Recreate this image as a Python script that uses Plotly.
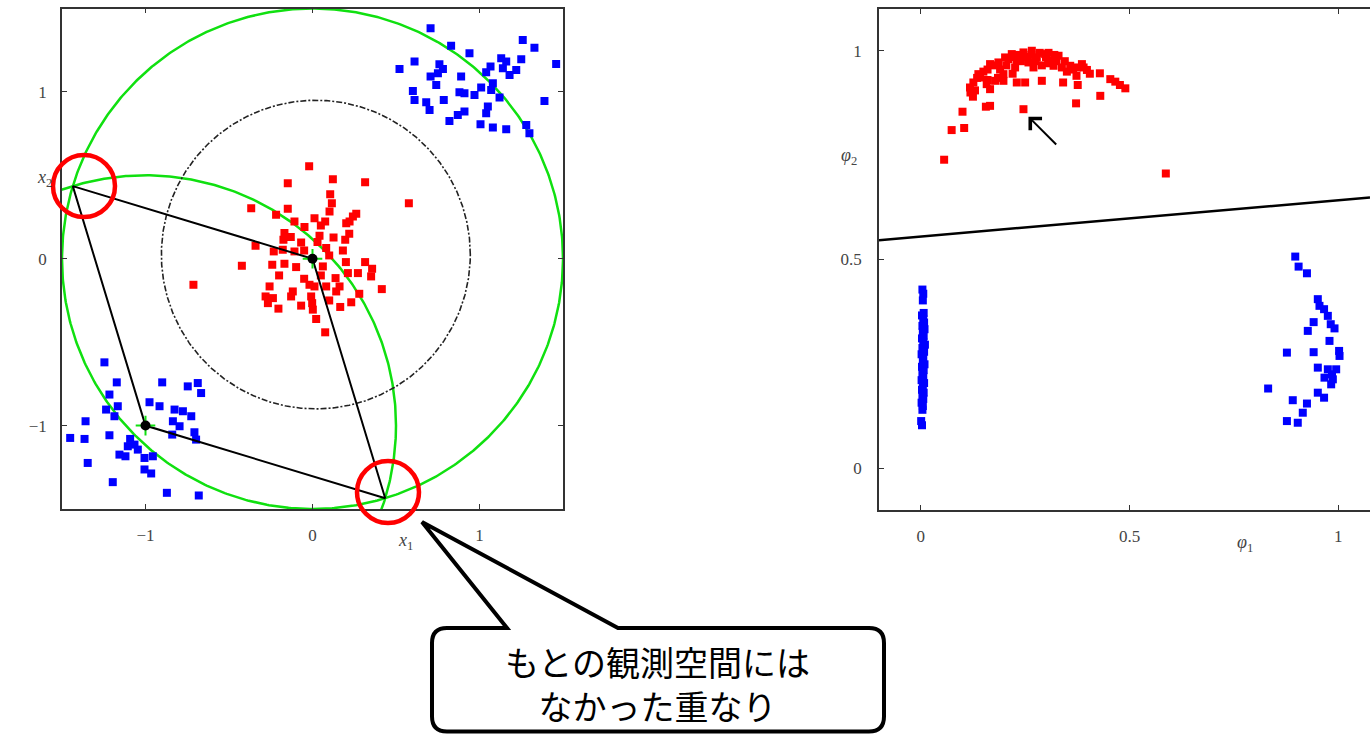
import numpy as np
import plotly.graph_objects as go

W, H = 1370, 734

# ---------------- observation space (x1, x2) ----------------
red_x1 = [-0.02, -0.148, 0.122, 0.315, 0.577, -0.367, -0.148, 0.106, 0.116, 0.102,
          -0.218, -0.108, -0.048, 0.012, 0.076, 0.202, 0.242, 0.262, 0.222, -0.168,
          -0.174, -0.068, 0.042, 0.126, 0.196, -0.341, -0.232, -0.178, -0.108, 0.082,
          0.182, -0.423, -0.241, -0.168, -0.098, 0.062, 0.212, 0.272, 0.315, 0.357,
          0.351, -0.713, -0.257, -0.118, -0.018, 0.012, 0.082, 0.138, 0.162, 0.142,
          0.415, -0.281, -0.267, -0.237, -0.128, -0.008, -0.002, 0.002, -0.068, -0.204,
          0.022, 0.166, 0.232, 0.076, -0.05, 0.03, -0.13, 0.1, -0.2, 0.05,
          -0.05, 0.2, 0.1, 0.22, 0.05, 0.28]
red_x2 = [0.555, 0.453, 0.477, 0.459, 0.333, 0.303, 0.299, 0.387, 0.333, 0.283,
          0.263, 0.223, 0.19, 0.243, 0.223, 0.213, 0.253, 0.269, 0.223, 0.154,
          0.114, 0.098, 0.138, 0.128, 0.114, 0.078, 0.044, 0.054, 0.044, 0.064,
          0.05, -0.042, -0.036, -0.03, -0.05, -0.046, -0.086, -0.086, -0.02, -0.06,
          -0.106, -0.156, -0.166, -0.196, -0.156, -0.166, -0.166, -0.116, -0.166, -0.196,
          -0.182, -0.226, -0.266, -0.236, -0.226, -0.226, -0.266, -0.305, -0.281, -0.299,
          -0.361, -0.289, -0.261, -0.441, 0.05, 0.1, 0.13, 0.02, -0.1, -0.1,
          -0.12, -0.02, -0.25, 0.15, 0.2, -0.21]

blue_x1 = [0.707, 0.83, 0.94, 1.259, 1.329, 1.459, 0.611, 0.521, 0.76, 0.781,
           0.751, 0.707, 0.741, 0.89, 1.13, 1.16, 1.14, 1.25, 1.22, 1.18,
           1.066, 1.04, 1.08, 1.01, 0.601, 0.611, 0.88, 0.91, 0.97, 1.07,
           1.12, 0.786, 0.681, 0.701, 1.389, 1.05, 1.04, 0.91, 0.87, 0.82,
           1.006, 1.08, 1.16, 1.28, 1.299,
           -1.246, -1.172, -0.9, -0.747, -0.687, -0.667, -1.216, -1.166, -1.236, -0.976,
           -0.916, -0.826, -0.776, -0.726, -0.836, -0.796, -1.186, -1.359, -1.451, -1.365,
           -1.216, -0.84, -0.707, -0.697, -1.092, -1.066, -1.106, -1.046, -1.156, -1.12,
           -1.006, -0.956, -1.346, -1.006, -0.966, -1.196, -0.872, -0.681]
blue_x2 = [1.381, 1.277, 1.232, 1.311, 1.265, 1.168, 1.182, 1.138, 1.166, 1.138,
           1.112, 1.092, 1.042, 1.092, 1.202, 1.182, 1.142, 1.196, 1.132, 1.102,
           1.152, 1.118, 1.052, 1.026, 1.006, 0.952, 0.998, 0.992, 0.982, 1.012,
           0.966, 0.952, 0.938, 0.892, 0.946, 0.912, 0.872, 0.882, 0.862, 0.826,
           0.806, 0.786, 0.776, 0.802, 0.752,
           -0.621, -0.741, -0.741, -0.765, -0.745, -0.805, -0.814, -0.884, -0.904, -0.86,
           -0.884, -0.904, -0.914, -0.944, -0.974, -1.004, -0.944, -0.974, -1.074, -1.08,
           -1.058, -1.054, -1.04, -1.084, -1.08, -1.114, -1.124, -1.144, -1.174, -1.184,
           -1.194, -1.184, -1.224, -1.263, -1.287, -1.339, -1.403, -1.419]

# Gaussian basis function centres and the contour radius drawn around them
basis_c1 = [-1.0, 0.0]
basis_c2 = [-1.0, 0.0]
basis_radius = 1.5
# dashed decision boundary in the original space
boundary_c1, boundary_c2 = 0.02, 0.025
boundary_radius = 0.925

# ---------------- feature space (phi1, phi2) ----------------
red_phi1 = [0.056, 0.074, 0.104, 0.100, 0.156, 0.166, 0.246, 0.372, 0.430, 0.587,
            0.119, 0.118, 0.126, 0.142, 0.138, 0.158, 0.166, 0.178, 0.166, 0.186,
            0.202, 0.198, 0.198, 0.218, 0.230, 0.226, 0.230, 0.250, 0.246, 0.266,
            0.258, 0.278, 0.270, 0.290, 0.298, 0.314, 0.318, 0.330, 0.338, 0.341,
            0.358, 0.374, 0.373, 0.376, 0.386, 0.398, 0.429, 0.454, 0.466, 0.477,
            0.490, 0.240, 0.306,
            0.125, 0.130, 0.135, 0.150, 0.160, 0.175, 0.190, 0.205, 0.210, 0.225,
            0.235, 0.240, 0.255, 0.265, 0.275, 0.285, 0.290, 0.300, 0.305, 0.320,
            0.325, 0.345, 0.350, 0.365, 0.390, 0.405, 0.160, 0.185, 0.220]
red_phi2 = [0.739, 0.810, 0.815, 0.854, 0.866, 0.868, 0.860, 0.874, 0.892, 0.706,
            0.900, 0.912, 0.924, 0.936, 0.944, 0.920, 0.908, 0.928, 0.968, 0.972,
            0.984, 0.944, 0.928, 0.992, 0.976, 0.960, 0.924, 0.924, 0.996, 1.000,
            0.972, 0.984, 0.960, 0.928, 0.992, 0.976, 0.964, 0.988, 0.960, 0.924,
            0.964, 0.960, 0.940, 0.918, 0.968, 0.954, 0.946, 0.932, 0.926, 0.918,
            0.910, 0.985, 0.995,
            0.890, 0.905, 0.935, 0.950, 0.955, 0.965, 0.955, 0.965, 0.980, 0.985,
            0.990, 0.975, 0.985, 0.990, 0.975, 0.995, 0.965, 0.985, 0.970, 0.990,
            0.975, 0.975, 0.950, 0.955, 0.960, 0.945, 0.930, 0.935, 0.945]

blue_phi1 = [0.004, 0.006, 0.005, 0.007, 0.003, 0.006, 0.008, 0.004, 0.009, 0.005,
             0.007, 0.003, 0.006, 0.010, 0.004, 0.008, 0.002, 0.006, 0.005, 0.009,
             0.003, 0.007, 0.004, 0.006, 0.002, 0.008, 0.005, 0.003, 0.007, 0.004,
             0.006, 0.002, 0.005, 0.004, 0.001, 0.003,
             0.897, 0.905, 0.925, 0.951, 0.955, 0.966, 0.975, 0.941, 0.927, 0.982,
             0.991, 0.979, 0.877, 0.941, 1.002, 1.003, 0.951, 0.975, 0.995, 0.967,
             0.987, 0.983, 0.832, 0.951, 0.966, 0.891, 0.925, 0.915, 0.877, 0.903,
             0.985]
blue_phi2 = [0.428, 0.418, 0.402, 0.372, 0.366, 0.357, 0.349, 0.341, 0.333, 0.326,
             0.317, 0.311, 0.302, 0.296, 0.288, 0.279, 0.273, 0.264, 0.257, 0.249,
             0.243, 0.235, 0.226, 0.219, 0.211, 0.204, 0.196, 0.188, 0.181, 0.172,
             0.166, 0.157, 0.149, 0.140, 0.113, 0.103,
             0.507, 0.483, 0.467, 0.405, 0.389, 0.381, 0.365, 0.350, 0.329, 0.345,
             0.335, 0.305, 0.277, 0.278, 0.281, 0.269, 0.241, 0.237, 0.237, 0.217,
             0.213, 0.201, 0.191, 0.181, 0.169, 0.163, 0.155, 0.133, 0.113, 0.109,
             0.225]

# linear decision boundary in feature space: phi2 = a + b * phi1
sep_intercept = 0.555
sep_slope = 0.087

left_ticks = [-1, 0, 1]
right_ticks = [0, 0.5, 1]

# ---------------- layout geometry (pixels) ----------------
LEFT_BOX = (62, 563, 8.5, 509)      # x0, x1, ytop, ybottom
RIGHT_BOX = (879, 1370, 9, 510)
LEFT_RANGE = [-1.5, 1.5]
RIGHT_XRANGE = [-0.1, 1.076]
RIGHT_YRANGE = [-0.1, 1.1]

RED = "#ff0000"
BLUE = "#0000ff"
GREEN = "#10e010"
MSIZE = 8


def pxx(x):
    return x / W


def pxy(y):
    return 1 - y / H


fig = go.Figure()

theta = np.linspace(0, 2 * np.pi, 721)

# basis-function contours (green)
for cx, cy in zip(basis_c1, basis_c2):
    fig.add_trace(go.Scatter(x=cx + basis_radius * np.cos(theta),
                             y=cy + basis_radius * np.sin(theta),
                             mode="lines", line=dict(color=GREEN, width=2.5),
                             xaxis="x", yaxis="y", hoverinfo="skip"))

# dashed boundary circle
fig.add_trace(go.Scatter(x=boundary_c1 + boundary_radius * np.cos(theta),
                         y=boundary_c2 + boundary_radius * np.sin(theta),
                         mode="lines", line=dict(color="#222222", width=1.6, dash="6px,2px,2px,2px"),
                         xaxis="x", yaxis="y", hoverinfo="skip"))

# data points in the original space
fig.add_trace(go.Scatter(x=red_x1, y=red_x2, mode="markers",
                         marker=dict(symbol="square", size=MSIZE, color=RED),
                         xaxis="x", yaxis="y"))
fig.add_trace(go.Scatter(x=blue_x1, y=blue_x2, mode="markers",
                         marker=dict(symbol="square", size=MSIZE, color=BLUE),
                         xaxis="x", yaxis="y"))

# rhombus linking the two centres and the contour intersections
ca = np.array([basis_c1[0], basis_c2[0]])
cb = np.array([basis_c1[1], basis_c2[1]])
d = np.linalg.norm(cb - ca)
mid = (ca + cb) / 2
perp = np.array([-(cb - ca)[1], (cb - ca)[0]]) / d
h = np.sqrt(basis_radius ** 2 - (d / 2) ** 2)
p_up = mid + h * perp
p_dn = mid - h * perp
rh = np.array([cb, p_up, ca, p_dn, cb])
fig.add_trace(go.Scatter(x=rh[:, 0], y=rh[:, 1], mode="lines",
                         line=dict(color="black", width=2),
                         xaxis="x", yaxis="y", hoverinfo="skip"))

# basis centres
fig.add_trace(go.Scatter(x=basis_c1, y=basis_c2, mode="markers",
                         marker=dict(symbol="cross-thin", size=14,
                                     line=dict(color=GREEN, width=2)),
                         xaxis="x", yaxis="y"))
fig.add_trace(go.Scatter(x=basis_c1, y=basis_c2, mode="markers",
                         marker=dict(symbol="circle", size=10, color="black"),
                         xaxis="x", yaxis="y"))

# feature space
fig.add_trace(go.Scatter(x=RIGHT_XRANGE,
                         y=[sep_intercept + sep_slope * v for v in RIGHT_XRANGE],
                         mode="lines", line=dict(color="black", width=2.5),
                         xaxis="x2", yaxis="y2", hoverinfo="skip"))
fig.add_trace(go.Scatter(x=red_phi1, y=red_phi2, mode="markers",
                         marker=dict(symbol="square", size=MSIZE, color=RED),
                         xaxis="x2", yaxis="y2"))
fig.add_trace(go.Scatter(x=blue_phi1, y=blue_phi2, mode="markers",
                         marker=dict(symbol="square", size=MSIZE, color=BLUE),
                         xaxis="x2", yaxis="y2"))

tickfont = dict(family="Liberation Serif", size=17, color="#444444")
axis_common = dict(showgrid=False, zeroline=False, showline=True, linecolor="#333333",
                   linewidth=1.5, ticks="inside", ticklen=5, tickcolor="#333333",
                   tickfont=tickfont)

fig.update_layout(
    width=W, height=H,
    margin=dict(l=0, r=0, t=0, b=0),
    paper_bgcolor="white", plot_bgcolor="white",
    showlegend=False,
    xaxis=dict(domain=[pxx(LEFT_BOX[0]), pxx(LEFT_BOX[1])], range=LEFT_RANGE,
               tickvals=left_ticks, mirror="ticks", ticklabelstandoff=10,
               anchor="y", **axis_common),
    yaxis=dict(domain=[pxy(LEFT_BOX[3]), pxy(LEFT_BOX[2])], range=LEFT_RANGE,
               tickvals=left_ticks, mirror="ticks", ticklabelstandoff=10,
               anchor="x", **axis_common),
    xaxis2=dict(domain=[pxx(RIGHT_BOX[0]), 1.0], range=RIGHT_XRANGE,
                tickvals=right_ticks, mirror="ticks", ticklabelstandoff=10,
                anchor="y2", **axis_common),
    yaxis2=dict(domain=[pxy(RIGHT_BOX[3]), pxy(RIGHT_BOX[2])], range=RIGHT_YRANGE,
                tickvals=right_ticks, mirror=False, ticklabelstandoff=12,
                anchor="x2", **axis_common),
)

# axis titles
label_font = dict(family="Liberation Serif", size=18, color="#444444")
for text, xp, yp in [("<i>x</i><sub>1</sub>", 405, 541), ("<i>x</i><sub>2</sub>", 44, 178),
                     ("<i>φ</i><sub>1</sub>", 1245, 543), ("<i>φ</i><sub>2</sub>", 849, 156)]:
    fig.add_annotation(x=pxx(xp), y=pxy(yp), xref="paper", yref="paper", text=text,
                       xanchor="center", yanchor="middle",
                       showarrow=False, font=label_font)

# arrow pointing at the highlighted red point
fig.add_annotation(x=0.258, y=0.842, ax=0.328, ay=0.772, xref="x2", yref="y2",
                   axref="x2", ayref="y2", text="", showarrow=True,
                   arrowhead=4, arrowsize=1.6, arrowwidth=2, arrowcolor="black")

# red rings highlighting the overlaps
ring_r = 31
for cx, cy in [(84, 186), (388, 492)]:
    fig.add_shape(type="circle", xref="paper", yref="paper",
                  x0=pxx(cx - ring_r), x1=pxx(cx + ring_r),
                  y0=pxy(cy + ring_r), y1=pxy(cy - ring_r),
                  line=dict(color=RED, width=4.5), layer="above")

# speech-bubble callout
bx0, bx1, by0, by1, rad = 432, 884, 628, 731.5, 15
tip = (422, 522)
base_l, base_r = 507, 618


def P(x, y):
    return f"{pxx(x):.6f},{pxy(y):.6f}"


path = (f"M{P(base_l, by0)} L{P(*tip)} L{P(base_r, by0)} L{P(bx1 - rad, by0)} "
        f"Q{P(bx1, by0)} {P(bx1, by0 + rad)} L{P(bx1, by1 - rad)} "
        f"Q{P(bx1, by1)} {P(bx1 - rad, by1)} L{P(bx0 + rad, by1)} "
        f"Q{P(bx0, by1)} {P(bx0, by1 - rad)} L{P(bx0, by0 + rad)} "
        f"Q{P(bx0, by0)} {P(bx0 + rad, by0)} Z")
fig.add_shape(type="path", path=path, xref="paper", yref="paper",
              fillcolor="white", line=dict(color="black", width=4), layer="above")

fig.add_annotation(x=pxx(657), y=pxy(683), xref="paper", yref="paper",
                   text="もとの観測空間には<br>なかった重なり", showarrow=False,
                   xanchor="center", yanchor="middle", align="center",
                   font=dict(family="Noto Sans CJK JP", size=34, color="black"))

fig.write_html("out.html")
